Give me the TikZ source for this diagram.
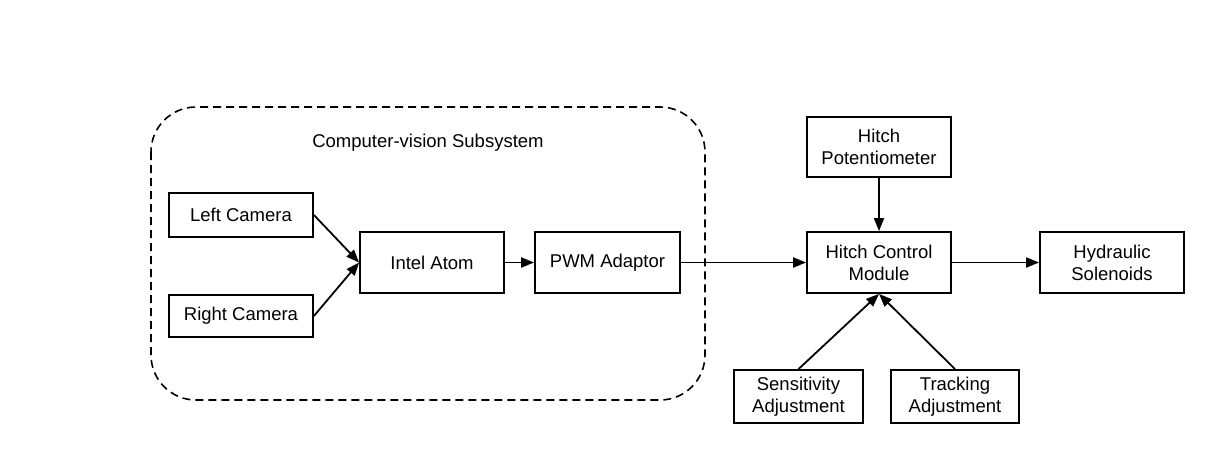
\documentclass[tikz,border=0pt]{standalone}
\usepackage{fontspec}
\setmainfont{Liberation Sans}
\usetikzlibrary{arrows.meta}

\tikzset{
  block/.style={draw, line width=1.8pt, align=center, inner sep=0pt,
    font=\fontsize{18.5}{22}\selectfont},
  flow/.style={line width=1.8pt, -{Triangle[length=13pt,width=10pt]}},
  group/.style={line width=1.6pt, dash pattern=on 8pt off 5pt, rounded corners=45pt},
}

\begin{document}
\begin{tikzpicture}[x=1pt, y=-1pt]
  \useasboundingbox (0,0) rectangle (1215,474);

  % computer-vision subsystem
  \draw[group] (151,107) rectangle (705,400);
  \node[font=\fontsize{18.5}{22}\selectfont] (title) at(428,143) {Computer-vision Subsystem};

  \node[block, minimum width=144pt, minimum height=44pt] (left) at(241,215) {Left Camera};
  \node[block, minimum width=144pt, minimum height=42pt] (right) at(241,316) {Right Camera};
  \node[block, minimum width=144pt, minimum height=61pt] (atom) at(432,262.5) {Intel Atom};
  \node[block, minimum width=145pt, minimum height=61pt] (pwm) at(607.5,262.5) {PWM Adaptor};

  % hitch control
  \node[block, minimum width=144pt, minimum height=60pt] (pot) at(879,147) {Hitch\\Potentiometer};
  \node[block, minimum width=144pt, minimum height=61pt] (hcm) at(879,262.5) {Hitch Control\\Module};
  \node[block, minimum width=144pt, minimum height=61pt] (hyd) at(1112,262.5) {Hydraulic\\Solenoids};
  \node[block, minimum width=129pt, minimum height=53pt] (sens) at(798.5,396.5) {Sensitivity\\Adjustment};
  \node[block, minimum width=128pt, minimum height=53pt] (track) at(955,396.5) {Tracking\\Adjustment};

  \draw[flow] (left.east) -- (atom.west);
  \draw[flow] (right.east) -- (atom.west);
  \draw[flow] (atom) -- (pwm);
  \draw[flow] (pwm) -- (hcm);
  \draw[flow] (hcm) -- (hyd);
  \draw[flow] (pot) -- (hcm);
  \draw[flow] (sens.north) -- (hcm.south);
  \draw[flow] (track.north) -- (hcm.south);
\end{tikzpicture}
\end{document}
